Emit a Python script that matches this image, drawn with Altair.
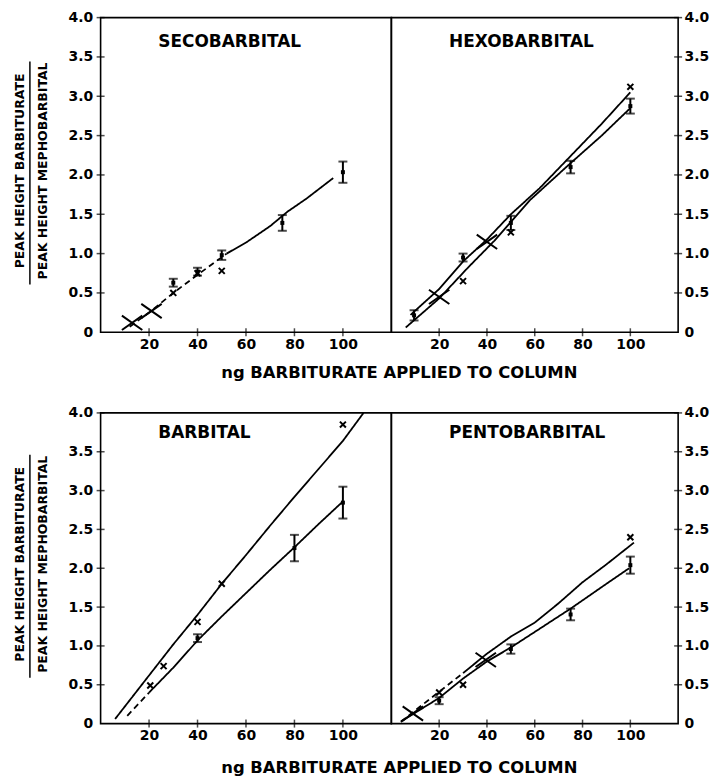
import altair as alt
import pandas as pd

# ---------------- data ----------------
X_TICKS = [20, 40, 60, 80, 100]
Y_TICKS = [0, 0.5, 1.0, 1.5, 2.0, 2.5, 3.0, 3.5, 4.0]
X_DOMAIN = [0, 120]
Y_DOMAIN = [0, 4]
X_TITLE = "ng BARBITURATE APPLIED TO COLUMN"
Y_TITLE_NUM = "PEAK HEIGHT BARBITURATE"
Y_TITLE_DEN = "PEAK HEIGHT MEPHOBARBITAL"
PANEL_NAMES = ["SECOBARBITAL", "HEXOBARBITAL", "BARBITAL", "PENTOBARBITAL"]

# Secobarbital
SECO_DASH_X = [12, 20, 30, 40, 52]
SECO_DASH_Y = [0.07, 0.25, 0.50, 0.73, 1.00]
SECO_SOLID_X = [52, 60, 70, 77, 85, 96]
SECO_SOLID_Y = [1.00, 1.14, 1.35, 1.53, 1.70, 1.96]
SECO_ERR_X = [30, 40, 50, 75, 100]
SECO_ERR_LO = [0.58, 0.72, 0.92, 1.29, 1.90]
SECO_ERR_HI = [0.68, 0.82, 1.04, 1.49, 2.17]
SECO_XM_X = [30, 40, 50]
SECO_XM_Y = [0.50, 0.75, 0.78]
SECO_BIG_X = [13, 21]
SECO_BIG_Y = [0.12, 0.27]

# Hexobarbital
HEXO_L1_X = [8, 20, 30, 40, 50, 62, 75, 88, 100]
HEXO_L1_Y = [0.22, 0.55, 0.90, 1.18, 1.50, 1.83, 2.24, 2.65, 3.05]
HEXO_L2_X = [6, 20, 32, 43, 58, 75, 88, 100]
HEXO_L2_Y = [0.06, 0.43, 0.82, 1.16, 1.68, 2.15, 2.50, 2.85]
HEXO_ERR_X = [9.5, 30, 50, 75, 100]
HEXO_ERR_LO = [0.15, 0.90, 1.30, 2.02, 2.78]
HEXO_ERR_HI = [0.28, 1.00, 1.48, 2.18, 2.97]
HEXO_XM_X = [30, 50, 100]
HEXO_XM_Y = [0.65, 1.27, 3.12]
HEXO_BIG_X = [20, 40]
HEXO_BIG_Y = [0.45, 1.15]

# Barbital
BARB_L1_X = [6, 20, 30, 40, 50, 60, 70, 80, 90, 100, 108.5]
BARB_L1_Y = [0.06, 0.62, 1.02, 1.40, 1.80, 2.17, 2.55, 2.92, 3.28, 3.64, 4.0]
BARB_DASH_X = [11, 20]
BARB_DASH_Y = [0.10, 0.40]
BARB_L2_X = [20, 30, 40, 50, 60, 70, 80, 90, 100]
BARB_L2_Y = [0.40, 0.72, 1.07, 1.38, 1.68, 1.98, 2.27, 2.57, 2.86]
BARB_ERR_X = [40, 80, 100]
BARB_ERR_LO = [1.05, 2.09, 2.64]
BARB_ERR_HI = [1.15, 2.43, 3.05]
BARB_XM_X = [20.5, 26, 40, 50, 100]
BARB_XM_Y = [0.49, 0.74, 1.31, 1.80, 3.85]
BARB_BIG_X = []
BARB_BIG_Y = []

# Pentobarbital
PENT_DASH_X = [4, 10, 20, 30]
PENT_DASH_Y = [0.02, 0.17, 0.41, 0.65]
PENT_L1_X = [30, 40, 50, 60, 70, 80, 90, 101.5]
PENT_L1_Y = [0.65, 0.90, 1.12, 1.30, 1.55, 1.82, 2.05, 2.33]
PENT_L2_X = [4, 10, 20, 30, 40, 50, 60, 75, 90, 99.5]
PENT_L2_Y = [0.03, 0.14, 0.33, 0.58, 0.80, 0.98, 1.18, 1.48, 1.80, 2.00]
PENT_ERR_X = [20, 50, 75, 100]
PENT_ERR_LO = [0.25, 0.90, 1.33, 1.93]
PENT_ERR_HI = [0.34, 1.02, 1.48, 2.15]
PENT_XM_X = [30, 100, 20]
PENT_XM_Y = [0.50, 2.40, 0.40]
PENT_BIG_X = [9, 39.5]
PENT_BIG_Y = [0.13, 0.82]

# ---------------- styling ----------------
FONT = "DejaVu Sans"
W_L, W_R = 292, 288
H_TOP, H_BOT = 316, 312
XSHAPE = "M -1 -1 L 1 1 M -1 1 L 1 -1"
BIGSHAPE = "M -1 -0.7 L 1 0.7 M -1 0.7 L 1 -0.7"

xs = alt.Scale(domain=X_DOMAIN, nice=False, zero=False)
ys = alt.Scale(domain=Y_DOMAIN, nice=False, zero=False)

x_axis = alt.Axis(values=X_TICKS, labelFont=FONT, labelFontSize=14, labelFontWeight="bold",
                  labelColor="black", ticks=False, domain=False, grid=False, labelPadding=5,
                  title=None, labelFlush=False)


def y_axis(orient):
    return alt.Axis(orient=orient, values=Y_TICKS,
                    labelExpr="datum.value == 0 ? '0' : format(datum.value, '.1f')",
                    labelFont=FONT, labelFontSize=14, labelFontWeight="bold", labelColor="black",
                    ticks=False, domain=False, grid=False,
                    labelPadding=8 if orient == "left" else 6, title=None)


def make_panel(name, lines, err, xm, big, orient, W, H, left_titles):
    yax = y_axis(orient)

    def X(f):
        return alt.X(f, scale=xs, axis=x_axis, title=None)

    def Y(f):
        return alt.Y(f, scale=ys, axis=yax, title=None)

    layers = []
    # inward ticks
    layers.append(alt.Chart(pd.DataFrame({"x": X_TICKS})).mark_tick(
        orient="vertical", size=8, thickness=1.5, color="black").encode(x=X("x:Q"), y=alt.value(H)))
    layers.append(alt.Chart(pd.DataFrame({"y": Y_TICKS[1:]})).mark_tick(
        orient="horizontal", size=8, thickness=1.5, color="black").encode(
        y=Y("y:Q"), x=alt.value(0 if orient == "left" else W)))
    for lx, ly, dashed in lines:
        df = pd.DataFrame({"x": lx, "y": ly})
        layers.append(alt.Chart(df).mark_line(
            color="black", strokeWidth=1.8, strokeDash=[6, 4] if dashed else [1, 0]
        ).encode(x=X("x:Q"), y=Y("y:Q")))
    ex, elo, ehi = err
    edf = pd.DataFrame({"x": ex, "lo": elo, "hi": ehi})
    eb = alt.Chart(edf)
    layers.append(eb.mark_rule(color="black", strokeWidth=2).encode(
        x=X("x:Q"), y=Y("lo:Q"), y2="hi:Q"))
    layers.append(eb.mark_tick(orient="horizontal", size=9, thickness=2, color="black").encode(
        x=X("x:Q"), y=Y("lo:Q")))
    layers.append(eb.mark_tick(orient="horizontal", size=9, thickness=2, color="black").encode(
        x=X("x:Q"), y=Y("hi:Q")))
    layers.append(eb.transform_calculate(mid="(datum.lo + datum.hi) / 2").mark_square(
        color="black", size=16, opacity=1).encode(x=X("x:Q"), y=Y("mid:Q")))
    mx, my = xm
    layers.append(alt.Chart(pd.DataFrame({"x": mx, "y": my})).mark_point(
        shape=XSHAPE, filled=False, color="black", strokeWidth=2, size=36, opacity=1
    ).encode(x=X("x:Q"), y=Y("y:Q")))
    bx, by = big
    if bx:
        layers.append(alt.Chart(pd.DataFrame({"x": bx, "y": by})).mark_point(
            shape=BIGSHAPE, filled=False, color="black", strokeWidth=2, size=420, opacity=1
        ).encode(x=X("x:Q"), y=Y("y:Q")))
    # panel label
    layers.append(alt.Chart(pd.DataFrame({"t": [name]})).mark_text(
        align="left", baseline="middle", font=FONT, fontSize=17, fontWeight="bold", color="black"
    ).encode(text="t:N", x=alt.value(58), y=alt.value(25 if H == H_TOP else 20)))
    if left_titles:
        tdf = pd.DataFrame({"t": [Y_TITLE_NUM]})
        layers.append(alt.Chart(tdf).mark_text(
            angle=270, align="center", baseline="middle", font=FONT, fontSize=12.5,
            fontWeight="bold", color="black").encode(
            text="t:N", x=alt.value(-81), y=alt.value(H / 2 - 4)))
        tdf2 = pd.DataFrame({"t": [Y_TITLE_DEN]})
        layers.append(alt.Chart(tdf2).mark_text(
            angle=270, align="center", baseline="middle", font=FONT, fontSize=12.5,
            fontWeight="bold", color="black").encode(
            text="t:N", x=alt.value(-58), y=alt.value(H / 2 - 4)))
        layers.append(alt.Chart(pd.DataFrame({"a": [0]})).mark_rule(
            color="black", strokeWidth=1.5).encode(
            x=alt.value(-71), y=alt.value(H / 2 - 114), y2=alt.value(H / 2 + 110)))
        xdf = pd.DataFrame({"t": [X_TITLE]})
        layers.append(alt.Chart(xdf).mark_text(
            align="center", baseline="middle", font=FONT, fontSize=16.5, fontWeight="bold",
            color="black").encode(
            text="t:N", x=alt.value(W + 8), y=alt.value(H + (41 if H == H_TOP else 45))))
    return alt.layer(*layers).properties(width=W, height=H)


seco = make_panel(PANEL_NAMES[0],
                  [(SECO_DASH_X, SECO_DASH_Y, True), (SECO_SOLID_X, SECO_SOLID_Y, False)],
                  (SECO_ERR_X, SECO_ERR_LO, SECO_ERR_HI), (SECO_XM_X, SECO_XM_Y),
                  (SECO_BIG_X, SECO_BIG_Y), "left", W_L, H_TOP, True)
hexo = make_panel(PANEL_NAMES[1],
                  [(HEXO_L1_X, HEXO_L1_Y, False), (HEXO_L2_X, HEXO_L2_Y, False)],
                  (HEXO_ERR_X, HEXO_ERR_LO, HEXO_ERR_HI), (HEXO_XM_X, HEXO_XM_Y),
                  (HEXO_BIG_X, HEXO_BIG_Y), "right", W_R, H_TOP, False)
barb = make_panel(PANEL_NAMES[2],
                  [(BARB_L1_X, BARB_L1_Y, False), (BARB_DASH_X, BARB_DASH_Y, True),
                   (BARB_L2_X, BARB_L2_Y, False)],
                  (BARB_ERR_X, BARB_ERR_LO, BARB_ERR_HI), (BARB_XM_X, BARB_XM_Y),
                  (BARB_BIG_X, BARB_BIG_Y), "left", W_L, H_BOT, True)
pent = make_panel(PANEL_NAMES[3],
                  [(PENT_DASH_X, PENT_DASH_Y, True), (PENT_L1_X, PENT_L1_Y, False),
                   (PENT_L2_X, PENT_L2_Y, False)],
                  (PENT_ERR_X, PENT_ERR_LO, PENT_ERR_HI), (PENT_XM_X, PENT_XM_Y),
                  (PENT_BIG_X, PENT_BIG_Y), "right", W_R, H_BOT, False)

top = alt.hconcat(seco, hexo, spacing=0, bounds="flush")
bottom = alt.hconcat(barb, pent, spacing=0, bounds="flush")
chart = alt.vconcat(top, bottom, spacing=22).properties(
    padding={"left": 5, "top": 0, "right": 0, "bottom": 0}
).configure_view(stroke="black", strokeWidth=1.6)

chart.save("out.html", embed_options={"renderer": "svg", "actions": False})
